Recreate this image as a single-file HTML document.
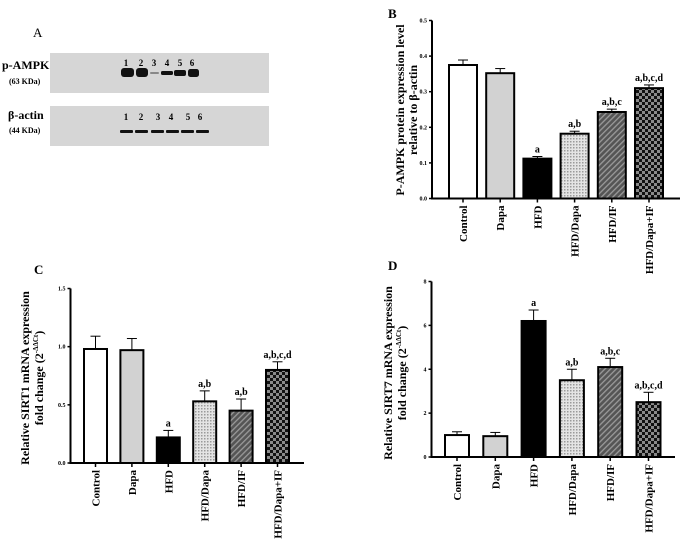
<!DOCTYPE html>
<html><head><meta charset="utf-8">
<style>
html,body{margin:0;padding:0;background:#fff;}
svg{display:block;font-family:"Liberation Serif",serif;}
</style></head>
<body>
<svg id="fig" width="685" height="551" viewBox="0 0 685 551" xmlns="http://www.w3.org/2000/svg">
<defs>
  <pattern id="pDots" width="3" height="3" patternUnits="userSpaceOnUse">
    <rect width="3" height="3" fill="#e4e4e4"/><rect width="1.5" height="1.5" fill="#9a9a9a"/>
  </pattern>
  <pattern id="pHatch" width="4" height="4" patternUnits="userSpaceOnUse" patternTransform="rotate(45)">
    <rect width="4" height="4" fill="#555"/><rect width="1.3" height="4" fill="#9a9a9a"/>
  </pattern>
  <pattern id="pCheck" width="6" height="6" patternUnits="userSpaceOnUse">
    <rect width="6" height="6" fill="#8a8a8a"/><rect width="3" height="3" fill="#111"/><rect x="3" y="3" width="3" height="3" fill="#111"/>
  </pattern>
</defs>

<g>
  <text x="33" y="37" font-size="13">A</text>
  <rect x="50" y="53" width="219" height="40" fill="#d6d6d6"/>
  <rect x="50" y="106" width="219" height="40" fill="#d6d6d6"/>
  <text x="2" y="69" font-size="12" font-weight="bold">p-AMPK</text>
  <text x="9" y="84" font-size="8" font-weight="bold">(63 KDa)</text>
  <text x="8" y="119" font-size="12" font-weight="bold">β-actin</text>
  <text x="9" y="133" font-size="8" font-weight="bold">(44 KDa)</text>
  <g font-size="9" font-weight="bold" text-anchor="middle">
    <text x="126" y="66">1</text><text x="141" y="66">2</text><text x="154" y="66">3</text><text x="167" y="66">4</text><text x="180" y="66">5</text><text x="192" y="66">6</text>
  </g>
  <g fill="#111">
    <rect x="121" y="68" width="13" height="9" rx="3"/>
    <rect x="136" y="68" width="12" height="9" rx="3"/>
    <rect x="150" y="72" width="9" height="2" rx="1" fill="#888"/>
    <rect x="161" y="71" width="12" height="4" rx="1.5"/>
    <rect x="174" y="70" width="12" height="6" rx="2"/>
    <rect x="188" y="69" width="11" height="8" rx="2.5"/>
  </g>
  <g font-size="9" font-weight="bold" text-anchor="middle">
    <text x="126" y="120">1</text><text x="141" y="120">2</text><text x="158" y="120">3</text><text x="171" y="120">4</text><text x="188" y="120">5</text><text x="200" y="120">6</text>
  </g>
  <g fill="#111">
    <rect x="120" y="130" width="13" height="3" rx="1"/>
    <rect x="135" y="130" width="13" height="3" rx="1"/>
    <rect x="151" y="130" width="13" height="3" rx="1"/>
    <rect x="166" y="130" width="13" height="3" rx="1"/>
    <rect x="181" y="130" width="13" height="3" rx="1"/>
    <rect x="196" y="130" width="13" height="3" rx="1"/>
  </g>
</g>
<g id="charts"></g>
</svg>
<script>
const categories = ["Control","Dapa","HFD","HFD/Dapa","HFD/IF","HFD/Dapa+IF"];
const fills = ["#fff","#d2d2d2","#000","url(#pDots)","url(#pHatch)","url(#pCheck)"];

const valuesB = [0.375,0.352,0.112,0.182,0.243,0.310];
const errorsB = [0.014,0.013,0.006,0.007,0.008,0.009];
const lettersB = ["","","a","a,b","a,b,c","a,b,c,d"];
const ticksB = [0.0,0.1,0.2,0.3,0.4,0.5];
const tickLabelsB = ["0.0","0.1","0.2","0.3","0.4","0.5"];

const valuesC = [0.98,0.97,0.22,0.53,0.45,0.80];
const errorsC = [0.11,0.10,0.06,0.09,0.10,0.07];
const lettersC = ["","","a","a,b","a,b","a,b,c,d"];
const ticksC = [0.0,0.5,1.0,1.5];
const tickLabelsC = ["0.0","0.5","1.0","1.5"];

const valuesD = [1.00,0.95,6.2,3.5,4.1,2.5];
const errorsD = [0.15,0.17,0.5,0.5,0.4,0.45];
const lettersD = ["","","a","a,b","a,b,c","a,b,c,d"];
const ticksD = [0,2,4,6,8];
const tickLabelsD = ["0","2","4","6","8"];

const NS = "http://www.w3.org/2000/svg";
const root = document.getElementById("charts");
function mk(tag, attrs, parent){
  const e = document.createElementNS(NS, tag);
  for (const k in attrs) e.setAttribute(k, attrs[k]);
  parent.appendChild(e);
  return e;
}

function drawChart(cfg, values, errors, letters, ticks, tickLabels){
  const g = mk("g", {}, root);
  
  
  const yMax = ticks[ticks.length-1];
  const y = v => cfg.y0 - (v / yMax) * (cfg.y0 - cfg.yTop);
  const x = i => cfg.xFirst + i * cfg.step;

  const lt = mk("text", {x: cfg.letterX, y: cfg.letterY, "font-size": 13, "font-weight": "bold"}, g);
  lt.textContent = cfg.letter;
  
  

  values.forEach((v, i) => {
    const cx = x(i), top = y(v), et = y(v + errors[i]);
    const eb = mk("line", {x1: cx, x2: cx, y1: top, y2: et, stroke: "#000", "stroke-width": 1}, g);
    
    
    const cap = mk("line", {x1: cx - 5, x2: cx + 5, y1: et, y2: et, stroke: "#000", "stroke-width": 1}, g);
    
    
    const r = mk("rect", {x: cx - cfg.bw/2, y: top, width: cfg.bw, height: cfg.y0 - top, fill: fills[i], stroke: "#000", "stroke-width": 2}, g);
    
    
    if (letters[i]) {
      const t = mk("text", {x: cx, y: et - 4, "font-size": 10, "font-weight": "bold", "text-anchor": "middle"}, g);
      t.textContent = letters[i];
      
      
    }
    const tk = mk("line", {x1: cx, x2: cx, y1: cfg.y0, y2: cfg.y0 + 4, stroke: "#000", "stroke-width": 1.5}, g);
    
    
    const cl = mk("text", {x: 0, y: 0, "font-size": 11, "font-weight": "bold", "text-anchor": "end",
      transform: `translate(${cx + 4},${cfg.y0 + 7}) rotate(-90)`}, g);
    cl.textContent = categories[i];
    
    
  });

  const ya = mk("line", {x1: cfg.x0, x2: cfg.x0, y1: cfg.yTop, y2: cfg.y0 + 1, stroke: "#000", "stroke-width": 2}, g);
  
  
  const xa = mk("line", {x1: cfg.x0 - 1, x2: cfg.xEnd, y1: cfg.y0, y2: cfg.y0, stroke: "#000", "stroke-width": 2}, g);
  
  
  ticks.forEach((t, i) => {
    const yy = y(t);
    const tl = mk("line", {x1: cfg.x0 - 3, x2: cfg.x0, y1: yy, y2: yy, stroke: "#000", "stroke-width": 1.5}, g);
    
    
    const tx = mk("text", {x: cfg.x0 - 5, y: yy + 2, "font-size": 6, "font-weight": "bold", "text-anchor": "end"}, g);
    tx.textContent = tickLabels[i];
    
    
  });

  const yt = mk("text", {x: 0, y: 0, "font-size": 12, "font-weight": "bold", "text-anchor": "middle",
    transform: `translate(${cfg.titleX},${cfg.titleY}) rotate(-90)`}, g);
  
  
  cfg.title.forEach((line, k) => {
    const ts = mk("tspan", {x: 0, dy: k === 0 ? 0 : cfg.lineGap}, yt);
    ts.innerHTML = line;
  });
}

drawChart({name:"panel-b-chart", letter:"B", letterX:388, letterY:18, x0:432, xEnd:680, y0:198.5, yTop:20.5,
  xFirst:463, step:37.2, bw:28, titleX:404, titleY:110, lineGap:13,
  title:["P-AMPK protein expression level","relative to β-actin"]},
  valuesB, errorsB, lettersB, ticksB, tickLabelsB);

drawChart({name:"panel-c-chart", letter:"C", letterX:34, letterY:274, x0:70.5, xEnd:304, y0:463, yTop:288.5,
  xFirst:95.5, step:36.4, bw:23, titleX:29, titleY:378, lineGap:14,
  title:["Relative SIRT1 mRNA expression","fold change (2<tspan font-size='7' dy='-5'>-ΔΔCt</tspan><tspan dy='5'>)</tspan>"]},
  valuesC, errorsC, lettersC, ticksC, tickLabelsC);

drawChart({name:"panel-d-chart", letter:"D", letterX:388, letterY:270, x0:431.5, xEnd:675, y0:457, yTop:281.5,
  xFirst:457, step:38.3, bw:24, titleX:392, titleY:373, lineGap:14,
  title:["Relative SIRT7 mRNA expression","fold change (2<tspan font-size='7' dy='-5'>-ΔΔCt</tspan><tspan dy='5'>)</tspan>"]},
  valuesD, errorsD, lettersD, ticksD, tickLabelsD);
</script>
</body></html>
